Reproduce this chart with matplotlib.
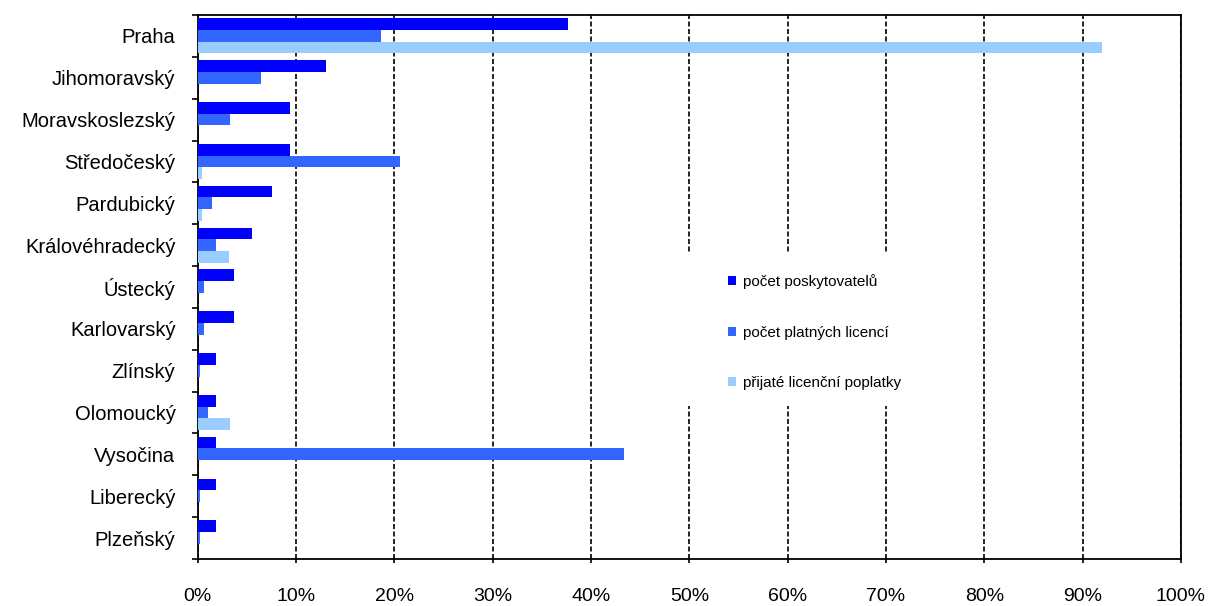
import matplotlib
matplotlib.use("Agg")
import matplotlib.pyplot as plt
from matplotlib.patches import Rectangle
from matplotlib.ticker import PercentFormatter, MultipleLocator
import numpy as np

plt.rcParams['font.family'] = ['Liberation Sans', 'DejaVu Sans']

regions = ["Praha", "Jihomoravský", "Moravskoslezský", "Středočeský", "Pardubický",
           "Královéhradecký", "Ústecký", "Karlovarský", "Zlínský", "Olomoucký",
           "Vysočina", "Liberecký", "Plzeňský"]

# shares in %
providers = [37.7, 13.1, 9.4, 9.4, 7.6, 5.5, 3.7, 3.7, 1.9, 1.9, 1.9, 1.9, 1.9]
licences = [18.6, 6.4, 3.3, 20.6, 1.5, 1.9, 0.65, 0.65, 0.27, 1.1, 43.4, 0.27, 0.27]
fees = [92.0, 0.0, 0.0, 0.45, 0.45, 3.2, 0.0, 0.0, 0.0, 3.3, 0.0, 0.0, 0.0]

series_labels = ["počet poskytovatelů", "počet platných licencí", "přijaté licenční poplatky"]
colors = ["#0000FF", "#3366FF", "#99CCFF"]

fig = plt.figure(figsize=(12.12, 6.06), dpi=100)
ax = fig.add_axes([0.1631, 0.0776, 0.8113, 0.8977])

y = np.arange(len(regions))
h = 0.28
for k, (vals, lab, col) in enumerate(zip([providers, licences, fees], series_labels, colors)):
    ax.barh(y + (k - 1) * h, vals, height=h, color=col, label=lab, zorder=3)

ax.set_xlim(0, 100)
ax.set_ylim(len(regions) - 0.5, -0.5)
ax.xaxis.set_major_locator(MultipleLocator(10))
ax.xaxis.set_major_formatter(PercentFormatter(decimals=0))

ax.set_yticks(y)
ax.set_yticklabels(regions, fontsize=14.5)
ax.set_yticks(np.arange(len(regions) + 1) - 0.5, minor=True)
ax.tick_params(axis='y', which='major', length=0, pad=16)
ax.tick_params(axis='y', which='minor', length=4.5, width=1.2, direction='out')
ax.tick_params(axis='x', which='major', length=3, width=1.2, direction='out', pad=18, labelsize=14)

for s in ax.spines.values():
    s.set_linewidth(1.3)
    s.set_color('black')

ax.grid(axis='x', color='black', linestyle=(0, (3, 1.5)), linewidth=1.2, zorder=1)
ax.set_axisbelow(True)

# white area behind the legend
ax.add_patch(Rectangle((0.49, 0.281), 0.26, 0.282, transform=ax.transAxes,
                       facecolor='white', edgecolor='none', zorder=2))

leg = ax.legend(loc='upper left', bbox_to_anchor=(0.6007, 0.548), bbox_transform=fig.transFigure,
                frameon=False, fontsize=11, handlelength=0.55, handleheight=0.55,
                handletextpad=0.4, labelspacing=2.4, borderpad=0, borderaxespad=0)
leg.set_zorder(4)

fig.savefig("out.png", dpi=100)
